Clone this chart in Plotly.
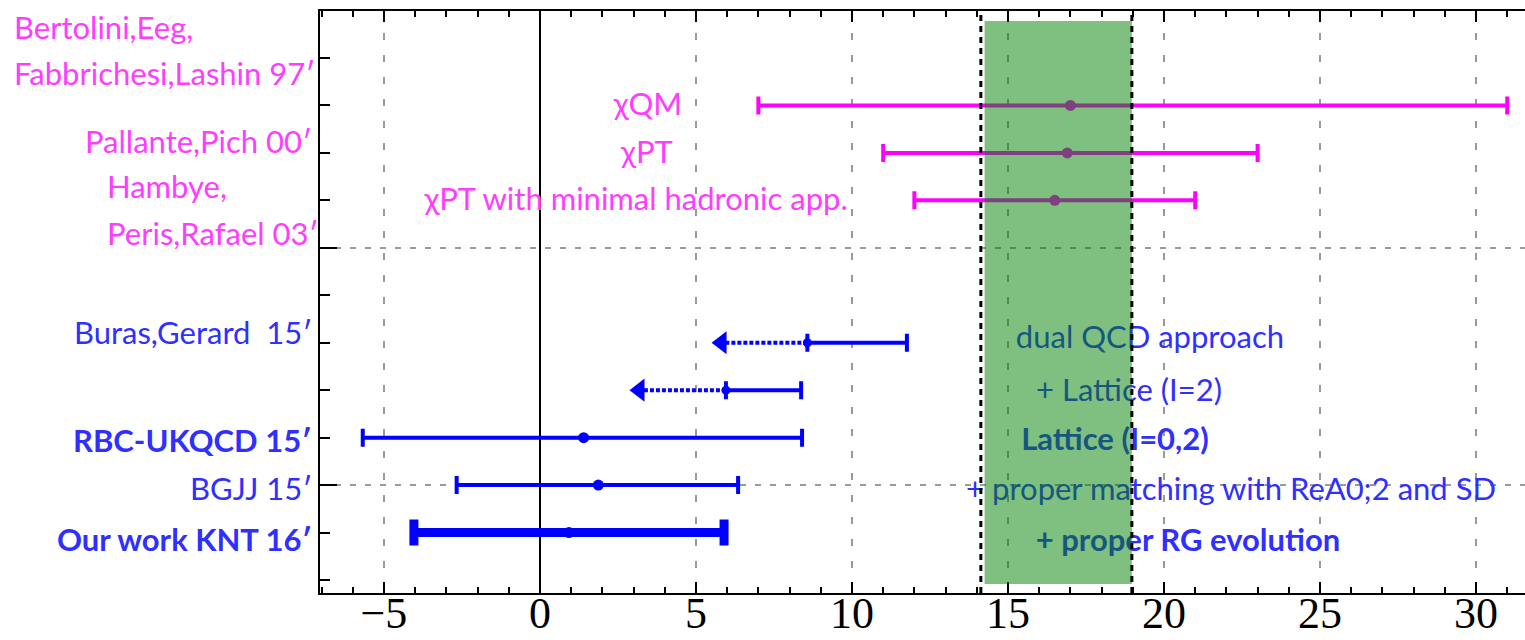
import plotly.graph_objects as go

# ---------------- data ----------------
# magenta (older) results
mag_rows = [11, 10, 9]
mag_center = [17.0, 16.9, 16.5]
mag_low = [7.0, 11.0, 12.0]
mag_high = [31.0, 23.0, 21.0]

# Buras-Gerard upper bounds (dotted arrows)
bur_rows = [6, 5]
bur_center = [8.57, 5.96]
bur_high = [11.76, 8.37]
bur_tip = [5.45, 2.82]

# lattice / BGJJ
lat_rows = [4, 3]
lat_center = [1.4, 1.87]
lat_low = [-5.68, -2.67]
lat_high = [8.4, 6.35]

# our work KNT
knt_rows = [2]
knt_center = [0.93]
knt_low = [-4.04]
knt_high = [5.9]

# experimental band
exp_band = [14.25, 18.97]
exp_edges = [14.13, 18.97]

x_ticks = [-5, 0, 5, 10, 15, 20, 25, 30]

left_labels = ["Bertolini,Eeg,", "Fabbrichesi,Lashin 97\u2032", "Pallante,Pich 00\u2032",
               "Hambye,", "Peris,Rafael 03\u2032",
               "Buras,Gerard\u00a0\u00a015\u2032", "<b>RBC-UKQCD 15\u2032</b>", "BGJJ 15\u2032",
               "<b>Our work KNT 16\u2032</b>"]
inner_texts = ["\u03c7QM", "\u03c7PT", "\u03c7PT with minimal hadronic app.",
               "dual QCD approach", "+ Lattice (I=2)", "<b>Lattice (I=0,2)</b>",
               "+ proper matching with ReA0;2 and SD", "<b>+ proper RG evolution</b>"]

# ---------------- layout constants ----------------
W, H = 1525, 640
ML, MR, MT, MB = 320, 0, 11, 47
XR = [-7.05, 31.57]
YR = [0.726, 12.99]
px_per_x = (W - ML - MR) / (XR[1] - XR[0])
px_per_y = (H - MT - MB) / (YR[1] - YR[0])

MAG = "#ff00ff"
BLUE = "#0000ff"
MAG_T = "#ff3cff"
BLUE_T = "#2f2fff"
FONT = "Lato"
FS = 31

fig = go.Figure()

# magenta error bars
fig.add_trace(go.Scatter(
    x=mag_center, y=mag_rows, mode="markers",
    marker=dict(color=MAG, size=11),
    error_x=dict(type="data", symmetric=False,
                 array=[h - c for h, c in zip(mag_high, mag_center)],
                 arrayminus=[c - l for c, l in zip(mag_center, mag_low)],
                 color=MAG, thickness=4, width=9),
    hoverinfo="skip", showlegend=False))

# Buras dotted arrows
tip_off = (20 / 3 ** 0.5) / px_per_x
for r, c, t in zip(bur_rows, bur_center, bur_tip):
    fig.add_trace(go.Scatter(
        x=[c, t + tip_off], y=[r, r], mode="lines",
        line=dict(color=BLUE, width=4, dash="4px,2px"),
        hoverinfo="skip", showlegend=False))
    fig.add_trace(go.Scatter(
        x=[t + tip_off], y=[r], mode="markers",
        marker=dict(symbol="triangle-left", size=20, color=BLUE),
        hoverinfo="skip", showlegend=False))
fig.add_trace(go.Scatter(
    x=bur_center, y=bur_rows, mode="markers",
    marker=dict(color=BLUE, size=9),
    error_x=dict(type="data", symmetric=False,
                 array=[h - c for h, c in zip(bur_high, bur_center)],
                 arrayminus=[0 for _ in bur_center],
                 color=BLUE, thickness=4, width=9),
    hoverinfo="skip", showlegend=False))

# lattice / BGJJ
fig.add_trace(go.Scatter(
    x=lat_center, y=lat_rows, mode="markers",
    marker=dict(color=BLUE, size=11),
    error_x=dict(type="data", symmetric=False,
                 array=[h - c for h, c in zip(lat_high, lat_center)],
                 arrayminus=[c - l for c, l in zip(lat_center, lat_low)],
                 color=BLUE, thickness=4, width=9),
    hoverinfo="skip", showlegend=False))

# our work
fig.add_trace(go.Scatter(
    x=knt_center, y=knt_rows, mode="markers",
    marker=dict(color=BLUE, size=11),
    error_x=dict(type="data", symmetric=False,
                 array=[h - c for h, c in zip(knt_high, knt_center)],
                 arrayminus=[c - l for c, l in zip(knt_center, knt_low)],
                 color=BLUE, thickness=9, width=13),
    hoverinfo="skip", showlegend=False))

# in-plot texts (data layer so the band tints them)
inner_pos = [(3.46, 10.97), (3.43, 9.96), (3.08, 8.95),
             (19.55, 6.06), (18.88, 4.94), (18.43, 3.91), (22.15, 2.85), (20.77, 1.78)]
inner_col = [MAG_T] * 3 + [BLUE_T] * 5
for txt, (tx, ty), col in zip(inner_texts, inner_pos, inner_col):
    fig.add_trace(go.Scatter(
        x=[tx], y=[ty], mode="text", text=[txt], textposition="middle center",
        textfont=dict(family=FONT, size=FS, color=col),
        hoverinfo="skip", showlegend=False))

# dummy trace for top axis
fig.add_trace(go.Scatter(x=[None], y=[None], xaxis="x2", showlegend=False, hoverinfo="skip"))

# band and edges (above data)
fig.add_shape(type="rect", xref="x", yref="paper", x0=exp_band[0], x1=exp_band[1],
              y0=9 / (H - MT - MB), y1=1 - 10 / (H - MT - MB),
              fillcolor="rgba(0,128,0,0.5)", line=dict(width=0), layer="above")
for e in exp_edges:
    fig.add_shape(type="line", xref="x", yref="paper", x0=e, x1=e, y0=0, y1=1,
                  line=dict(color="black", width=3, dash="6px,5px"), layer="above")

# left labels
def px_to_paper_x(px):
    return (px - ML) / (W - ML - MR)

def py_to_y(py):
    return YR[0] + (H - MB - py) / px_per_y

label_spec = [  # (anchor, pixel x, pixel y, colour)
    ("left", 12, 27, MAG_T), ("left", 12, 73, MAG_T), ("right", 314, 141, MAG_T),
    ("left", 105, 186, MAG_T), ("left", 105, 233, MAG_T),
    ("right", 314, 332, BLUE_T), ("right", 314, 440, BLUE_T), ("right", 314, 488, BLUE_T),
    ("right", 314, 539, BLUE_T)]
for txt, (anc, px, py, col) in zip(left_labels, label_spec):
    fig.add_annotation(text=txt, xref="paper", yref="y", x=px_to_paper_x(px), y=py_to_y(py),
                       xanchor=anc, yanchor="middle", showarrow=False,
                       font=dict(family=FONT, size=FS, color=col))

axis_common = dict(range=XR, showline=True, linecolor="black", linewidth=2,
                   ticks="inside", ticklen=11, tickwidth=2, tickcolor="black",
                   tickvals=x_ticks, automargin=False,
                   minor=dict(dtick=1, tick0=0, ticks="inside", ticklen=6, tickwidth=2,
                              tickcolor="black", showgrid=False))

fig.update_layout(
    width=W, height=H, margin=dict(l=ML, r=MR, t=MT, b=MB, pad=0, autoexpand=False),
    paper_bgcolor="white", plot_bgcolor="white",
    xaxis=dict(**axis_common, showgrid=True, gridcolor="#9a9a9a", gridwidth=1.5,
               griddash="7px,15px", zeroline=True, zerolinecolor="black", zerolinewidth=2,
               tickfont=dict(family="Liberation Serif", size=44, color="black"),
               ticklabelstandoff=-20),
    xaxis2=dict(**axis_common, overlaying="x", side="top", showticklabels=False,
                showgrid=False, zeroline=False),
    yaxis=dict(range=YR, showline=True, linecolor="black", linewidth=2, automargin=False,
               ticks="inside", ticklen=17, tickwidth=2, tickcolor="black",
               tickvals=[3, 8], showticklabels=False,
               showgrid=True, gridcolor="#9a9a9a", gridwidth=1.5, griddash="6px,9px",
               zeroline=False,
               minor=dict(dtick=1, tick0=0, ticks="inside", ticklen=10, tickwidth=2,
                          tickcolor="black", showgrid=False)),
)

fig.write_html("out.html")
